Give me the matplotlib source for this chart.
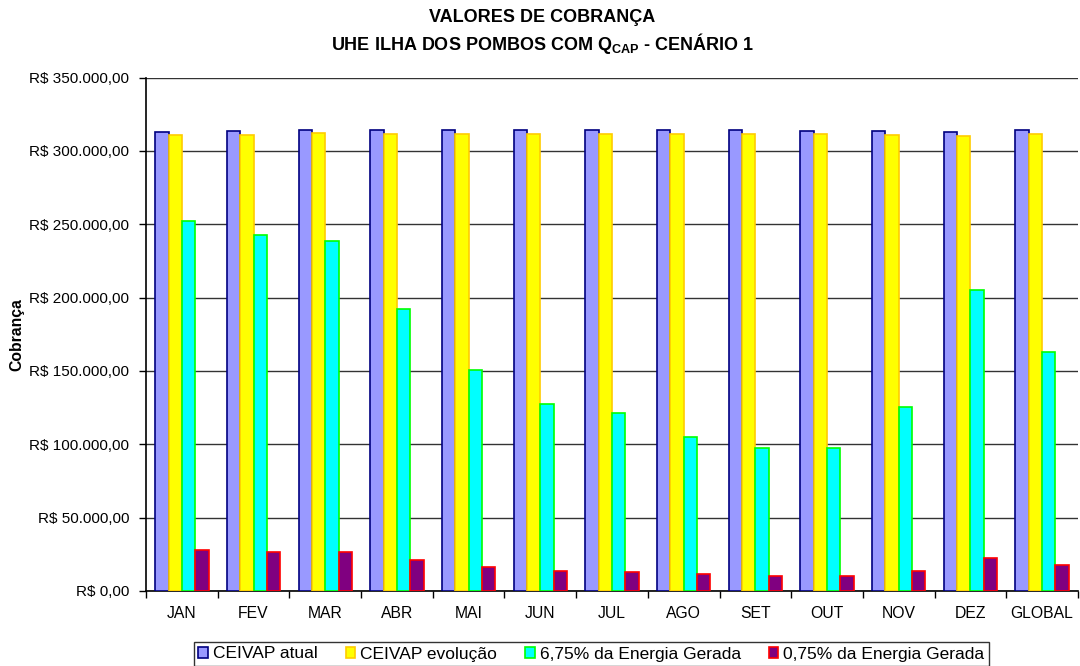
import matplotlib
matplotlib.use("Agg")
import matplotlib.pyplot as plt
import numpy as np
from matplotlib.ticker import FuncFormatter, FixedLocator

plt.rcParams['font.family'] = ['Liberation Sans', 'DejaVu Sans']
plt.rcParams['mathtext.fontset'] = 'custom'
plt.rcParams['mathtext.rm'] = 'Liberation Sans'
plt.rcParams['mathtext.bf'] = 'Liberation Sans:bold'

categories = ["JAN", "FEV", "MAR", "ABR", "MAI", "JUN", "JUL", "AGO", "SET", "OUT", "NOV", "DEZ", "GLOBAL"]
ceivap_atual = [313100, 313400, 314200, 314200, 314200, 314000, 314000, 314500, 314500, 313800, 313400, 312900, 314000]
ceivap_evolucao = [310800, 311000, 312000, 311700, 311700, 311700, 311700, 311700, 311700, 311300, 310800, 310400, 311500]
energia_675 = [252400, 242500, 238600, 192400, 150600, 127300, 121300, 104900, 97400, 97600, 125200, 205200, 162900]
energia_075 = [27700, 26600, 26400, 20900, 16600, 13600, 13200, 11600, 10400, 10400, 13800, 22500, 17900]
series_names = ["CEIVAP atual", "CEIVAP evolução", "6,75% da Energia Gerada", "0,75% da Energia Gerada"]

faces = ["#9999FF", "#FFFF00", "#00FFFF", "#800080"]
edges = ["#000080", "#FFCC00", "#00FF00", "#FF0000"]

fig = plt.figure(figsize=(10.8, 6.66), dpi=100)
ax = fig.add_axes([146/1080, 1-591/666, (1078-146)/1080, (591-77.5)/666])

x = np.arange(len(categories))
bw = 0.186
series = [ceivap_atual, ceivap_evolucao, energia_675, energia_075]
handles = []
for k, vals in enumerate(series):
    h = ax.bar(x + (k - 1.5) * bw, vals, width=bw, color=faces[k], edgecolor=edges[k],
               linewidth=1.2, label=series_names[k], zorder=3)
    handles.append(h)

ax.set_xlim(-0.5, len(categories) - 0.5)
ax.set_ylim(0, 350000)
ax.set_yticks(np.arange(0, 350001, 50000))
def fmt(v, pos):
    s = f"{int(round(v)):,}".replace(",", ".")
    return f"R$ {s},00"
ax.yaxis.set_major_formatter(FuncFormatter(fmt))
ax.yaxis.grid(True, color="#333333", linewidth=1.0, zorder=0)
ax.set_axisbelow(True)

ax.xaxis.set_major_locator(FixedLocator(np.arange(-0.5, len(categories) + 0.5, 1.0)))
ax.xaxis.set_minor_locator(FixedLocator(x))
ax.set_xticklabels([])
ax.set_xticklabels(categories, minor=True)
ax.tick_params(axis='x', which='major', length=5, width=1, direction='out', color='black')
ax.tick_params(axis='x', which='minor', length=0, pad=11, labelsize=11.3)
ax.tick_params(axis='y', length=5, width=1, direction='out', labelsize=11, pad=7)

for s in ['top', 'right']:
    ax.spines[s].set_visible(False)
for s in ['left', 'bottom']:
    ax.spines[s].set_color('black')
    ax.spines[s].set_linewidth(1.2)

ax.set_ylabel("Cobrança", fontsize=11.3, fontweight='bold')
ax.yaxis.set_label_coords(-(146-24)/932, 0.5)

fig.text(542/1080, 1-18/666, "VALORES DE COBRANÇA", ha='center', va='center',
         fontsize=13, fontweight='bold')
fig.text(542/1080, 1-44/666, r"UHE ILHA DOS POMBOS COM Q$_{\mathbf{CAP}}$ - CENÁRIO 1",
         ha='center', va='center', fontsize=13, fontweight='bold')

leg = fig.legend(handles=handles, labels=series_names, ncol=4,
                 loc='center', bbox_to_anchor=(591.5/1080, 1-654/666),
                 frameon=True, fancybox=False, edgecolor='black', fontsize=12.5,
                 handlelength=0.55, handleheight=0.55, handletextpad=0.3,
                 columnspacing=1.6, borderpad=0.25, borderaxespad=0)
leg.get_frame().set_linewidth(1.0)

fig.savefig("out.png", dpi=100)
